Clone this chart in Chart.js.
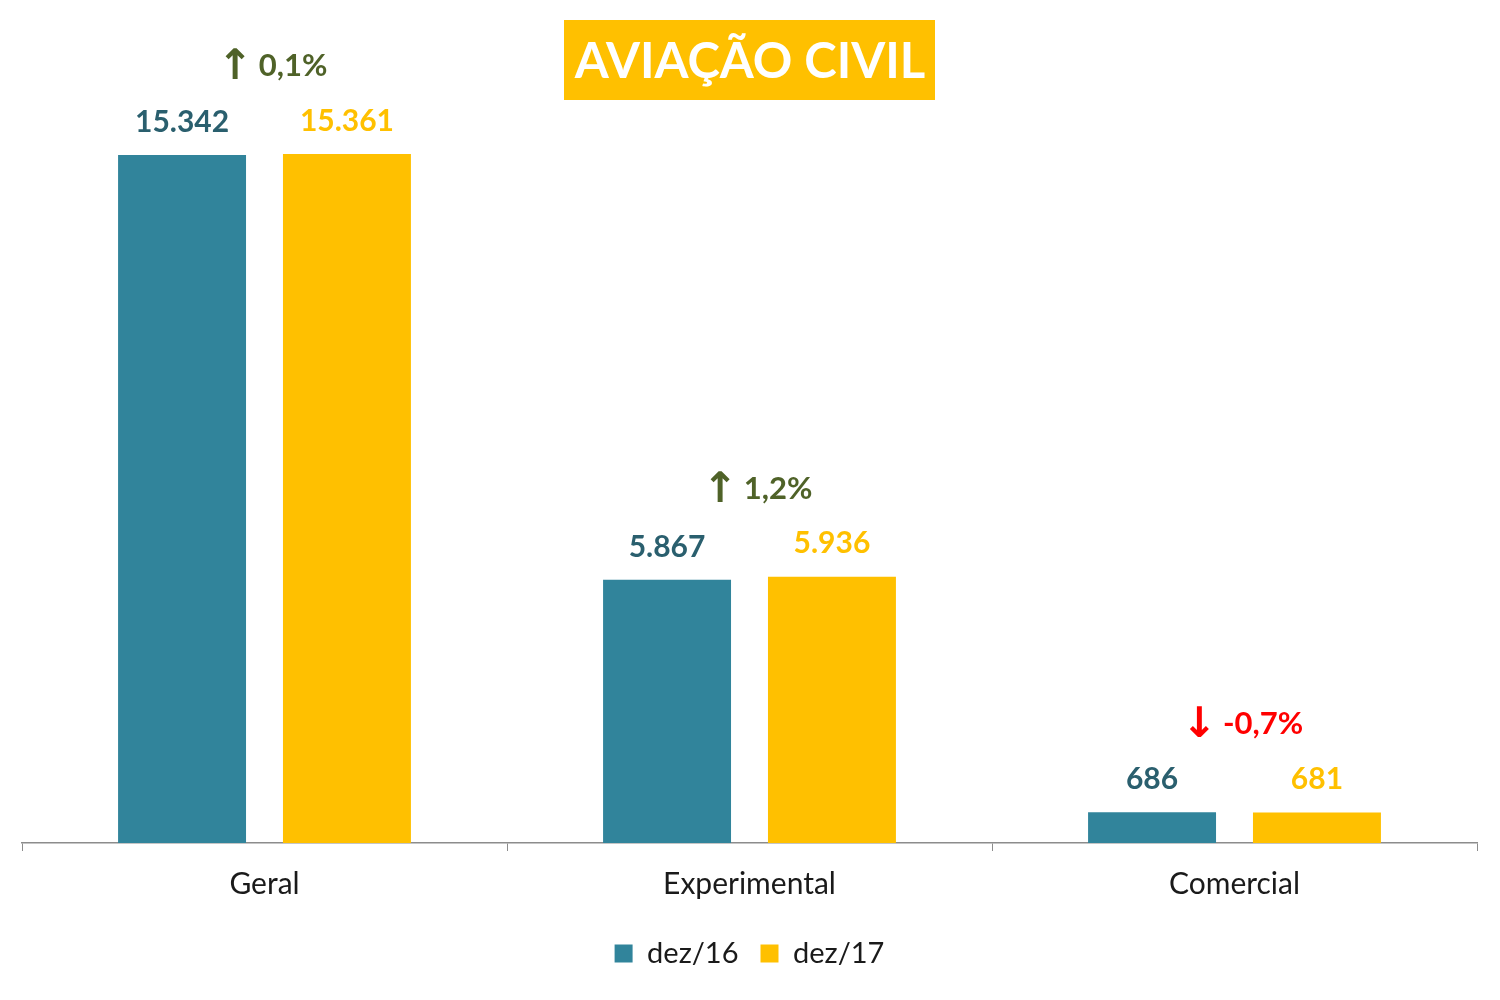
<!DOCTYPE html>
<html>
<head>
<meta charset="utf-8">
<script src="https://cdn.jsdelivr.net/npm/chart.js@4"></script>
<style>
  html, body { margin: 0; padding: 0; background: #fff; }
  #wrap { width: 1500px; height: 1000px; position: relative; }
</style>
</head>
<body>
<div id="wrap"><canvas id="chart" width="1500" height="1000"></canvas></div>
<script>
// ==================== DATA ====================
const CATEGORIES = ['Geral', 'Experimental', 'Comercial'];
const SERIES_NAMES = ['dez/16', 'dez/17'];
const DEZ16 = [15342, 5867, 686];
const DEZ17 = [15361, 5936, 681];
const CHANGE_ARROWS = ['↑', '↑', '↓'];
const CHANGE_LABELS = ['0,1%', '1,2%', '-0,7%'];
const CHANGE_UP = [true, true, false];
const TITLE = 'AVIAÇÃO CIVIL';

const FONT = 'Lato, "Open Sans", "DejaVu Sans", sans-serif';
const COLORS = {
  teal: '#31849B',
  tealText: '#2A5F6E',
  gold: '#FFC000',
  up: '#4F6228',
  down: '#FF0000',
  axis: '#8C8C8C',
  text: '#1a1a1a'
};

const fmtNum = v => v.toLocaleString('de-DE');

// value labels + change labels drawn above bars
const annotations = {
  id: 'annotations',
  afterDatasetsDraw(chart) {
    const ctx = chart.ctx;
    ctx.save();
    ctx.textAlign = 'center';
    ctx.textBaseline = 'middle';
    ctx.font = 'bold 30px ' + FONT;
    chart.data.datasets.forEach((ds, di) => {
      const meta = chart.getDatasetMeta(di);
      ctx.fillStyle = di === 0 ? COLORS.tealText : COLORS.gold;
      meta.data.forEach((bar, i) => {
        ctx.fillText(fmtNum(ds.data[i]), bar.x, bar.y - 33);
      });
    });
    const x = chart.scales.x, y = chart.scales.y;
    CATEGORIES.forEach((c, i) => {
      const top = y.getPixelForValue(Math.max(DEZ16[i], DEZ17[i]));
      const cy = top - 88;
      ctx.font = 'bold 31px ' + FONT;
      const tw = ctx.measureText(CHANGE_LABELS[i]).width;
      ctx.font = 'bold 42px "DejaVu Sans", sans-serif';
      const aw = ctx.measureText(CHANGE_ARROWS[i]).width;
      const gap = 6;
      const left = x.getPixelForValue(i) + 8 - (aw + gap + tw) / 2;
      ctx.fillStyle = CHANGE_UP[i] ? COLORS.up : COLORS.down;
      ctx.textAlign = 'left';
      ctx.fillText(CHANGE_ARROWS[i], left, cy + 2);
      ctx.font = 'bold 31px ' + FONT;
      ctx.fillText(CHANGE_LABELS[i], left + aw + gap, cy);
      ctx.textAlign = 'center';
    });
    // title box
    ctx.fillStyle = COLORS.gold;
    ctx.fillRect(564, 20, 371, 80);
    ctx.fillStyle = '#fff';
    ctx.font = 'bold 49px ' + FONT;
    ctx.fillText(TITLE, 750, 62);
    ctx.restore();
  }
};

new Chart(document.getElementById('chart'), {
  type: 'bar',
  data: {
    labels: CATEGORIES,
    datasets: [
      { label: SERIES_NAMES[0], data: DEZ16, backgroundColor: COLORS.teal },
      { label: SERIES_NAMES[1], data: DEZ17, backgroundColor: COLORS.gold }
    ]
  },
  options: {
    responsive: false,
    animation: false,
    categoryPercentage: 0.68,
    barPercentage: 0.776,
    layout: { padding: { left: 22, right: 23, top: 20, bottom: 22 } },
    plugins: {
      legend: {
        position: 'bottom',
        labels: {
          color: COLORS.text,
          font: { family: FONT, size: 29 },
          boxWidth: 18,
          boxHeight: 18,
          padding: 22
        }
      },
      tooltip: { enabled: false }
    },
    scales: {
      x: {
        grid: { display: true, drawOnChartArea: false, drawTicks: true, tickLength: 8, color: COLORS.axis },
        border: { display: true, color: COLORS.axis, width: 1.5 },
        ticks: { color: COLORS.text, font: { family: FONT, size: 30 }, padding: 15 }
      },
      y: {
        display: false,
        min: 0,
        max: 18350
      }
    }
  },
  plugins: [annotations]
});
</script>
</body>
</html>
